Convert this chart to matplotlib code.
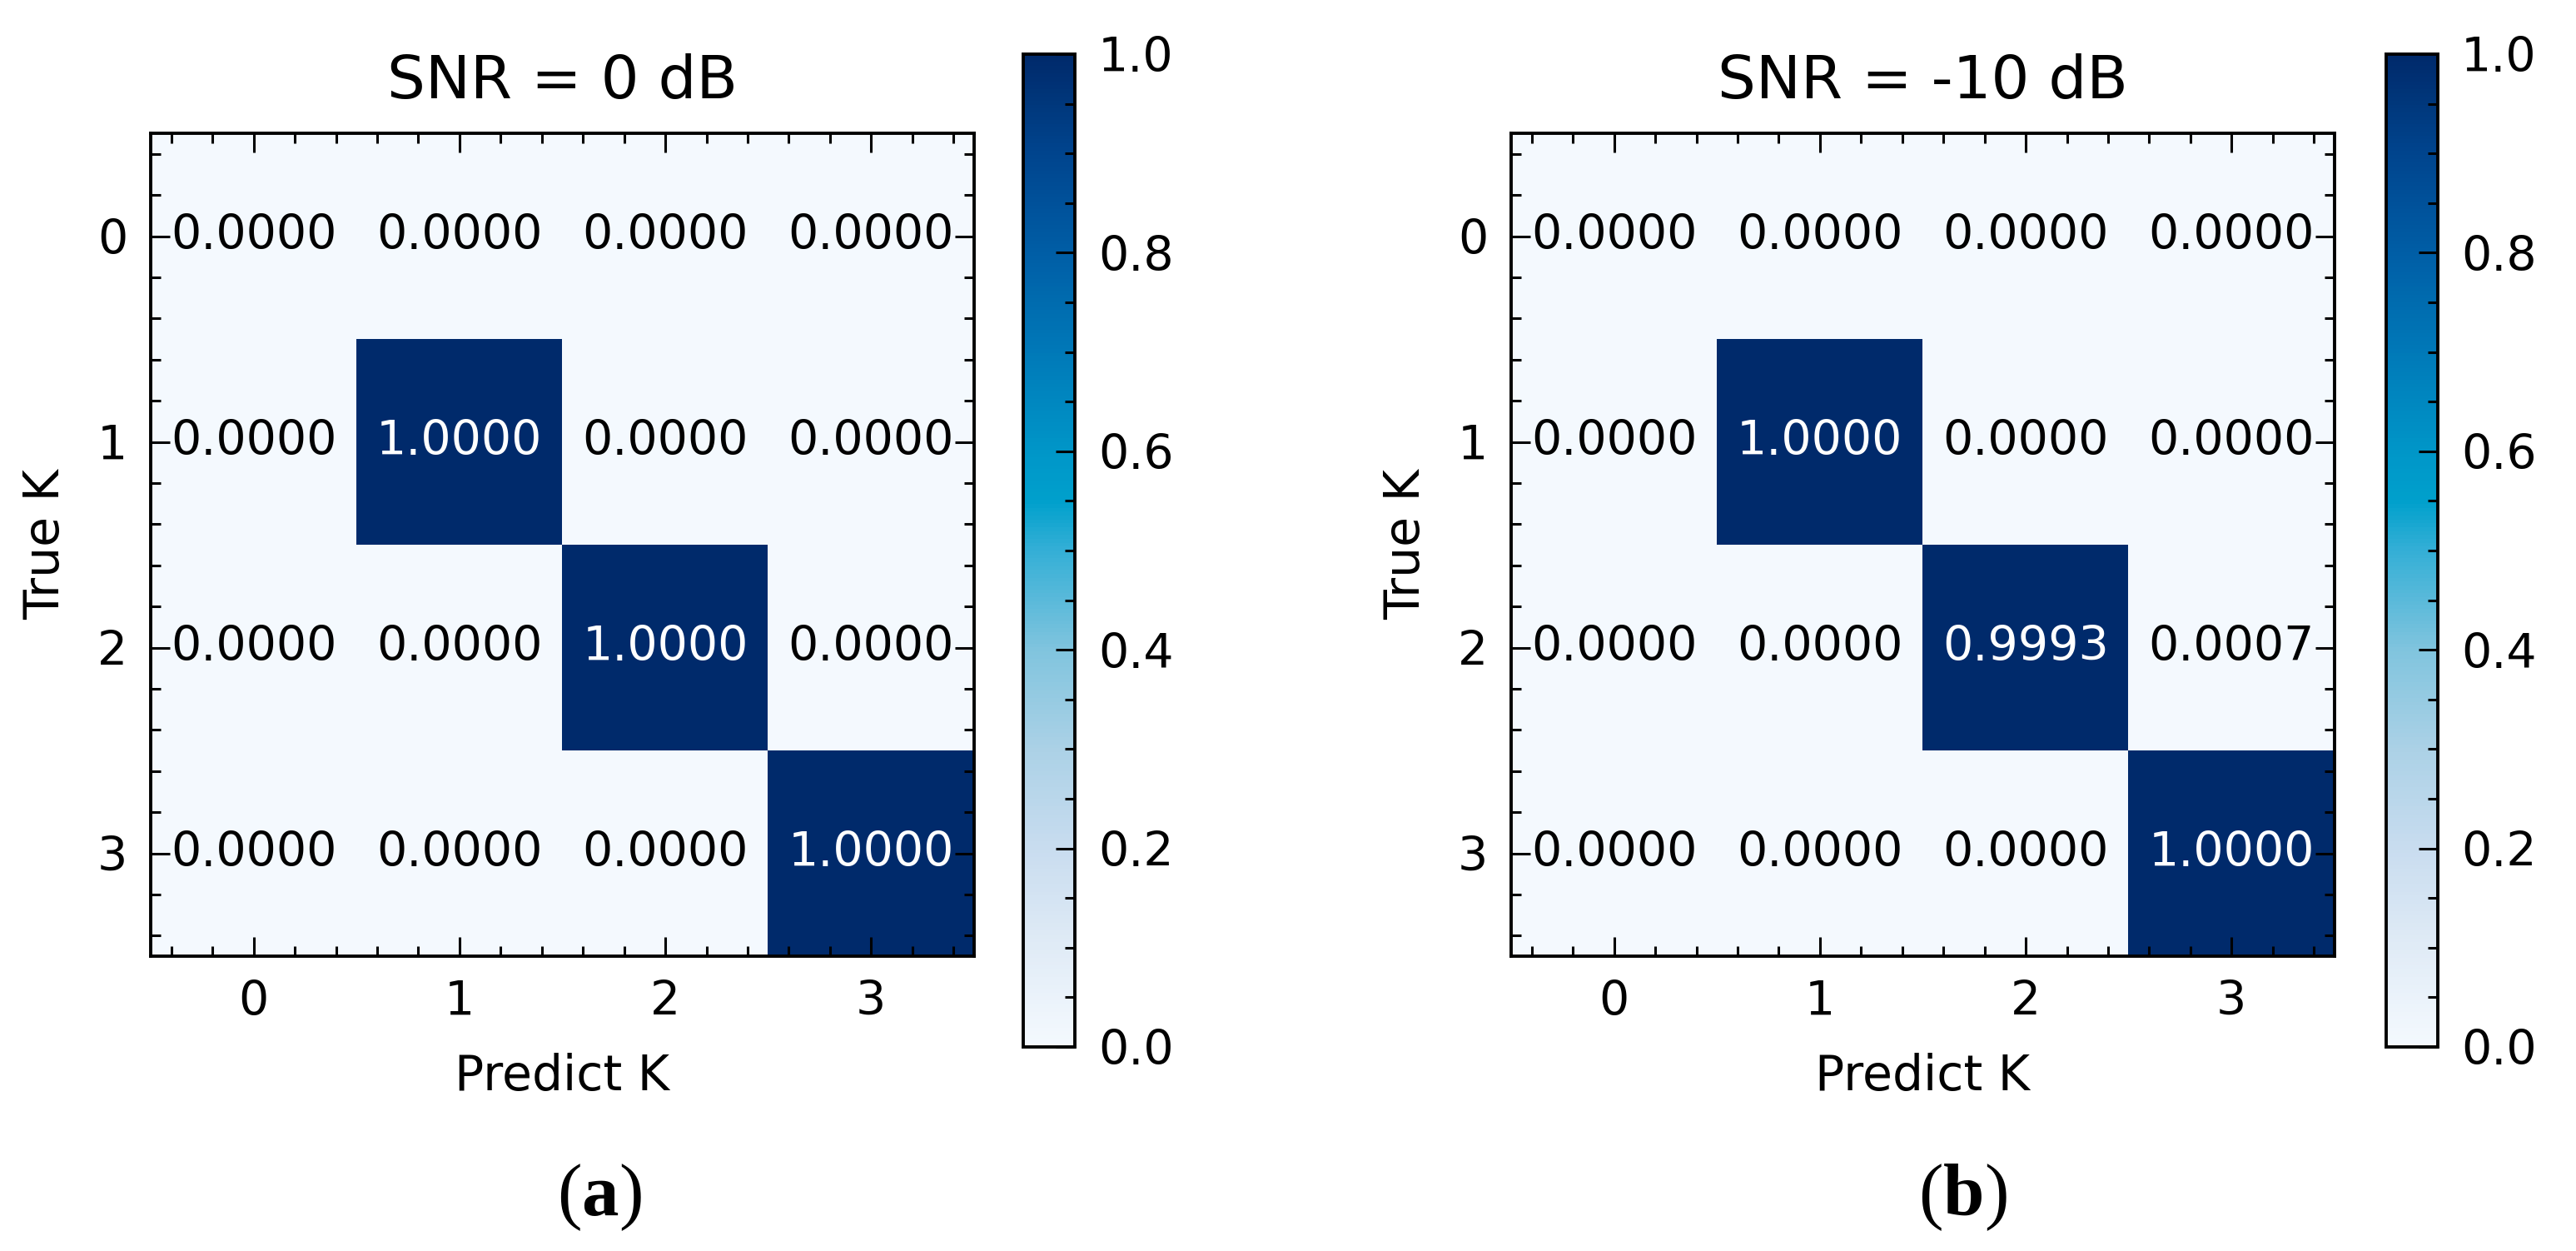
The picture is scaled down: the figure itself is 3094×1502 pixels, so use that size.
import numpy as np
import matplotlib
matplotlib.use("Agg")
import matplotlib.pyplot as plt
from matplotlib.colors import LinearSegmentedColormap
from matplotlib.ticker import AutoMinorLocator, MultipleLocator

# data: confusion matrices (rows = true K, cols = predicted K)
classes = [0, 1, 2, 3]
cm_0db = [[0.0, 0.0, 0.0, 0.0],
          [0.0, 1.0, 0.0, 0.0],
          [0.0, 0.0, 1.0, 0.0],
          [0.0, 0.0, 0.0, 1.0]]
cm_m10db = [[0.0, 0.0, 0.0, 0.0],
            [0.0, 1.0, 0.0, 0.0],
            [0.0, 0.0, 0.9993, 0.0007],
            [0.0, 0.0, 0.0, 1.0]]
titles = ["SNR = 0 dB", "SNR = -10 dB"]
captions = ["a", "b"]

# a more saturated "Blues" like the one in the picture
cmap_stops = [(0.0, "#f4f9fe"), (0.1, "#e0ebf6"), (0.2, "#c8dcef"),
              (0.3, "#abd1e6"), (0.4, "#80c4de"), (0.5, "#34afd6"),
              (0.55, "#00a0cc"), (0.6, "#0096c8"), (0.7, "#0079b8"),
              (0.8, "#005ea6"), (0.9, "#00458e"), (1.0, "#002a6b")]
cmap = LinearSegmentedColormap.from_list("blues_sat", cmap_stops)

plt.rcParams["font.family"] = ["DejaVu Sans"]
plt.rcParams["mathtext.fontset"] = "custom"
plt.rcParams["mathtext.rm"] = "Liberation Serif"
plt.rcParams["mathtext.bf"] = "Liberation Serif:bold"

W, H = 3094, 1502
fig = plt.figure(figsize=(W / 200, H / 200), dpi=200)

fs = 20.5


def frac(x0, y0, x1, y1):
    # pixel box (top-left origin) -> figure fraction rect
    return [x0 / W, 1 - y1 / H, (x1 - x0) / W, (y1 - y0) / H]


ax_boxes = [frac(181, 160, 1170, 1148), frac(1815, 160, 2804, 1148)]
cb_boxes = [frac(1229, 65, 1291, 1257), frac(2866, 65, 2928, 1257)]
cap_x = [720, 2357]

for i, cm in enumerate([cm_0db, cm_m10db]):
    cm = np.array(cm)
    ax = fig.add_axes(ax_boxes[i])
    im = ax.imshow(cm, cmap=cmap, vmin=0, vmax=1, aspect="auto",
                   interpolation="nearest")

    for r in range(len(classes)):
        for c in range(len(classes)):
            v = cm[r, c]
            ax.text(c, r, "%.4f" % v, ha="center", va="center",
                    color="white" if v > 0.5 else "black", fontsize=fs)

    ax.set_xticks(range(len(classes)))
    ax.set_yticks(range(len(classes)))
    ax.set_xticklabels(classes)
    ax.set_yticklabels(classes)
    ax.xaxis.set_minor_locator(AutoMinorLocator(5))
    ax.yaxis.set_minor_locator(AutoMinorLocator(5))
    ax.tick_params(which="both", direction="in", top=True, right=True,
                   labelsize=fs, width=1.1, pad=10)
    ax.tick_params(which="major", length=8.3)
    ax.tick_params(which="minor", length=4.3)
    for sp in ax.spines.values():
        sp.set_linewidth(1.4)

    ax.set_title(titles[i], fontsize=26, pad=15)
    ax.set_xlabel("Predict K", fontsize=21, labelpad=12)
    ax.set_ylabel("True K", fontsize=21, labelpad=12)

    cax = fig.add_axes(cb_boxes[i])
    cb = fig.colorbar(im, cax=cax)
    cb.set_ticks(np.arange(0, 1.01, 0.2))
    cb.ax.yaxis.set_major_formatter(plt.FormatStrFormatter("%.1f"))
    cb.ax.yaxis.set_minor_locator(MultipleLocator(0.05))
    cb.ax.tick_params(which="both", direction="in", labelsize=fs,
                      width=1.1, pad=10)
    cb.ax.tick_params(which="major", length=8.3)
    cb.ax.tick_params(which="minor", length=4.3)
    cb.outline.set_linewidth(1.4)

    fig.text(cap_x[i] / W, 1 - 1438 / H, r"($\mathbf{%s}$)" % captions[i],
             ha="center", va="center", fontsize=32, family="Liberation Serif")

fig.savefig("out.png", dpi=200, facecolor="white")
